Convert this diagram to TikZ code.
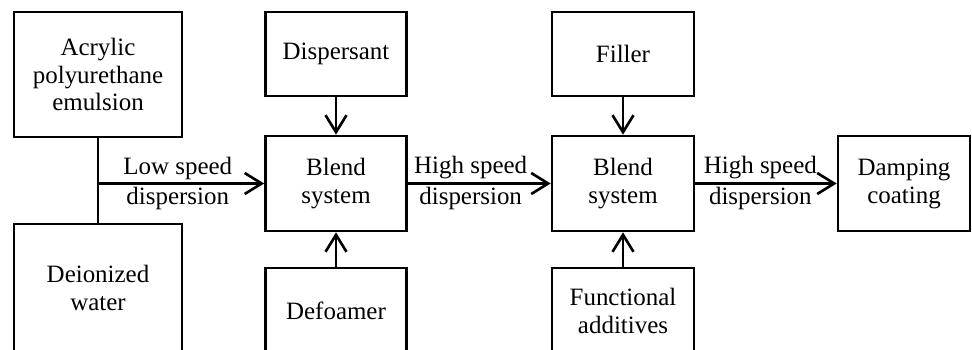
\documentclass[tikz,border=0pt]{standalone}
\usepackage{fontspec}
\setmainfont{Liberation Serif}
\usetikzlibrary{arrows.meta,positioning}

\begin{document}
\begin{tikzpicture}
	[x=0.02cm,y=-0.02cm,line width=1.5pt,
	>={Straight Barb[length=3.4mm,width=4.2mm,line width=1.5pt]},
	every node/.style={draw,line width=1.5pt,align=center,inner sep=0pt,
		font=\fontsize{14.2}{15.9}\selectfont},
	lbl/.style={draw=none,inner sep=1.6pt}]
	\useasboundingbox (0,0) rectangle (972,350);
	\node[minimum width=3.36cm,minimum height=2.5cm] (emul) at (98,74.5) {Acrylic\\polyurethane\\emulsion};
	\node[minimum width=3.36cm,minimum height=2.56cm] (water) at (98,288) {Deionized\\water};
	
	\node[minimum width=2.82cm,minimum height=1.68cm] (disp) at (336,54) {Dispersant};
	\node[minimum width=2.82cm,minimum height=1.9cm] (blendA) at (336,183.5) {Blend\\system};
	\node[minimum width=2.82cm,minimum height=1.72cm] (defoam) at (336,311) {Defoamer};
	
	\node[minimum width=2.84cm,minimum height=1.68cm] (filler) at (623,54) {Filler};
	\node[minimum width=2.84cm,minimum height=1.9cm] (blendB) at (623,183.5) {Blend\\system};
	\node[minimum width=2.84cm,minimum height=1.72cm] (func) at (623,311) {Functional\\additives};
	
	\node[minimum width=2.64cm,minimum height=1.9cm] (coat) at (904,183.5) {Damping\\coating};
	
	\coordinate (j) at (emul.south |- blendA.west);
	\draw (emul) -- (water);
	\draw[->] (j) -- (blendA.west)
		node[lbl,pos=0.48,above]{Low speed} node[lbl,pos=0.48,below]{dispersion};
	\draw[->] (blendA) -- (blendB)
		node[lbl,pos=0.44,above]{High speed} node[lbl,pos=0.44,below]{dispersion};
	\draw[->] (blendB) -- (coat)
		node[lbl,pos=0.46,above]{High speed} node[lbl,pos=0.46,below]{dispersion};
	\path
	\foreach \startNode/\endNode in {disp/blendA,defoam/blendA,filler/blendB,func/blendB}
	{
		(\startNode) edge[->] (\endNode)
	};
\end{tikzpicture}
\end{document}
